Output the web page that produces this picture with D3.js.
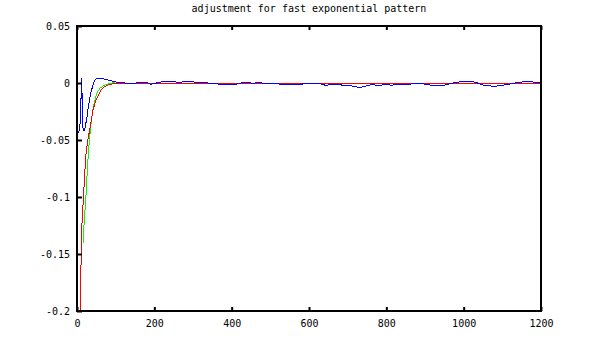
<!DOCTYPE html>
<html>
<head>
<meta charset="utf-8">
<script src="https://cdn.jsdelivr.net/npm/d3@7"></script>
<style>
  body { margin: 0; background: #fff; }
  text { font-family: "DejaVu Sans Mono", monospace; font-size: 10px; fill: #000; }
</style>
</head>
<body>
<div id="chart"></div>
<script>
// values
const xTicks = [0, 200, 400, 600, 800, 1000, 1200];
const yTicks = [0.05, 0, -0.05, -0.1, -0.15, -0.2];

const redT = [8, 9.5, 11, 13, 15.5, 18, 20.7, 23.3, 26.6, 28.5, 33, 37, 41, 46, 51, 57, 63, 70, 80, 96, 1200];
const redV = [-0.2, -0.18, -0.145, -0.122, -0.107, -0.092, -0.075, -0.062, -0.053, -0.049, -0.04, -0.032, -0.024, -0.0177, -0.013, -0.0089, -0.0055, -0.003, -0.0012, 0, 0];

const greenT = [16, 18, 20.5, 23, 26, 29, 32, 36, 40, 45, 52, 60, 70, 83, 95, 110, 1200];
const greenV = [-0.14, -0.125, -0.112, -0.1, -0.08, -0.063, -0.05, -0.036, -0.025, -0.016, -0.008, -0.004, -0.0016, 0, 0.0006, 0, 0];

const blueT = [0, 2, 5, 8, 10, 10.8, 12, 13.5, 15, 17, 20, 22, 25, 28, 31, 35, 40, 44, 48, 52, 65, 82, 99,
  110, 140, 165, 180, 190, 200, 220, 245, 265, 285, 310, 335, 350, 380, 410, 425, 440, 455, 470, 490, 515,
  540, 570, 600, 630, 645, 655, 670, 690, 710, 730, 745, 760, 785, 800, 812, 840, 870, 890, 910, 935, 955,
  975, 1000, 1020, 1035, 1055, 1080, 1095, 1115, 1135, 1160, 1185, 1200];
const blueV = [-0.036, -0.044, -0.042, -0.035, -0.03, 0.005, 0.004, -0.015, -0.038, -0.041, -0.041, -0.036, -0.032, -0.0235, -0.017, -0.009, -0.003, 0.0015, 0.0035, 0.0044, 0.0044, 0.003, 0.0015,
  0.0008, 0, 0.0009, 0.0009, -0.0008, 0, 0.0015, 0.0018, 0.001, 0.002, 0.001, 0.0006, 0, -0.0009, -0.0009, 0.0005, 0.0009, 0.0002, 0.0008, 0, -0.0003,
  -0.0009, -0.0008, 0, -0.0003, -0.0018, -0.0005, -0.0009, -0.0015, -0.0022, -0.0035, -0.0025, -0.0012, -0.0015, -0.0008, -0.0015, -0.0006, -0.0004, 0, -0.0012, -0.0022, -0.0012,
  0.0008, 0.0018, 0.0018, 0.0005, -0.0018, -0.0024, -0.0018, -0.0008, 0.0005, 0.0018, 0.0012, 0.0005];

const width = 598, height = 363;
const mLeft = 77, mRight = 541, mTop = 26, mBottom = 311;

const svg = d3.select("#chart").append("svg")
  .attr("width", width).attr("height", height);

const x = d3.scaleLinear().domain([0, 1200]).range([mLeft, mRight]);
const y = d3.scaleLinear().domain([-0.2, 0.05]).range([mBottom, mTop]);

svg.append("text")
  .attr("x", (mLeft + mRight) / 2).attr("y", 12)
  .attr("text-anchor", "middle")
  .text("adjustment for fast exponential pattern");

// curves
const line = d3.line().x(d => x(d[0])).y(d => y(d[1]) + 0.5);
const series = [
  {t: greenT, v: greenV, c: "#00ff00"},
  {t: redT, v: redV, c: "#ff0000"},
  {t: blueT, v: blueV, c: "#0000ff"}
];
series.forEach(s => {
  svg.append("path")
    .datum(s.t.map((t, i) => [t, s.v[i]]))
    .attr("d", line)
    .attr("fill", "none")
    .attr("stroke", s.c)
    .attr("stroke-width", 1)
    .attr("shape-rendering", "crispEdges");
});

// axes: ticks inward, labels outside
const xb = svg.append("g").attr("transform", `translate(0,${mBottom})`)
  .call(d3.axisBottom(x).tickValues(xTicks).tickSize(-4).tickPadding(9).tickFormat(d3.format("d")));
const xt = svg.append("g").attr("transform", `translate(0,${mTop})`)
  .call(d3.axisTop(x).tickValues(xTicks).tickSize(-4).tickFormat(""));
const yl = svg.append("g").attr("transform", `translate(${mLeft},0)`)
  .call(d3.axisLeft(y).tickValues(yTicks).tickSize(-5).tickPadding(7).tickFormat(d => d === 0 ? "0" : String(d)));

[xb, xt, yl].forEach(g => {
  g.select(".domain").remove();
  g.selectAll(".tick line").attr("stroke", "#000").attr("stroke-width", 2);
  g.selectAll("text").attr("font-family", "DejaVu Sans Mono").attr("font-size", 10).attr("fill", "#000");
});

svg.append("rect")
  .attr("x", mLeft).attr("y", mTop)
  .attr("width", mRight - mLeft).attr("height", mBottom - mTop)
  .attr("fill", "none").attr("stroke", "#000").attr("stroke-width", 2);
</script>
</body>
</html>
